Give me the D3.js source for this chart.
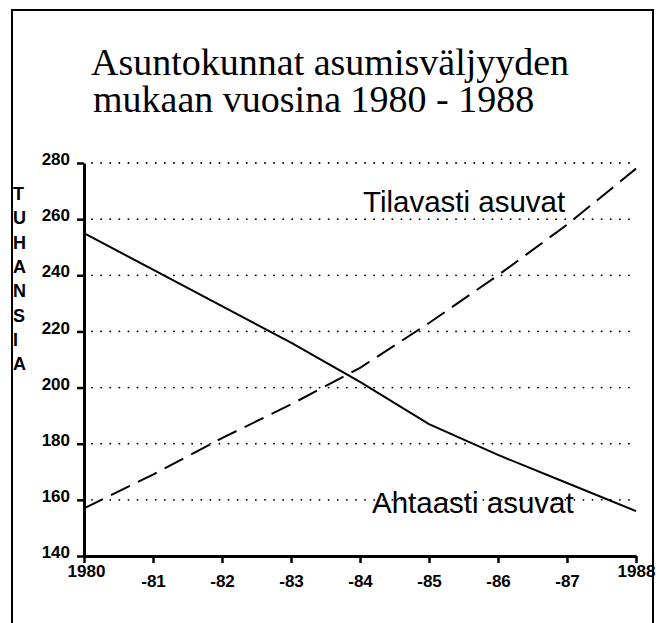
<!DOCTYPE html>
<html>
<head>
<meta charset="utf-8">
<script src="https://cdn.jsdelivr.net/npm/d3@7"></script>
<style>
  body { margin: 0; background: #fff; }
  svg { display: block; }
</style>
</head>
<body>
<svg id="chart" width="667" height="623"></svg>
<script>
// data (thousands of households)
const years = [1980, 1981, 1982, 1983, 1984, 1985, 1986, 1987, 1988];
const ahtaasti = [255, 242, 229, 216, 202, 187, 176, 166, 156];
const tilavasti = [157, 169, 182, 194, 207, 223, 240, 258, 278];
const yTicks = [140, 160, 180, 200, 220, 240, 260, 280];
const xTickLabels = ["1980", "-81", "-82", "-83", "-84", "-85", "-86", "-87", "1988"];
const yLabel = "TUHANSIA";

var svg = d3.select("#chart");

// outer frame
svg.append("rect")
    .attr("x", 12).attr("y", 10)
    .attr("width", 641).attr("height", 640)
    .attr("fill", "none")
    .attr("stroke", "#000")
    .attr("stroke-width", 2);

// title
const title = svg.append("text")
    .attr("font-family", "Liberation Serif, Times New Roman, serif")
    .attr("font-size", 38)
    .attr("fill", "#000");
title.append("tspan").attr("x", 91).attr("y", 75).text("Asuntokunnat asumisväljyyden");
title.append("tspan").attr("x", 93).attr("y", 112).text("mukaan vuosina 1980 - 1988");

var x = d3.scaleLinear().domain([1980, 1988]).range([84, 636]);
var y = d3.scaleLinear().domain([140, 280]).range([556, 163]);

// dotted grid
svg.append("g")
    .selectAll("line")
    .data(yTicks.filter(d => d > 140))
    .enter()
    .append("line")
    .attr("x1", 92).attr("x2", 634)
    .attr("y1", d => y(d)).attr("y2", d => y(d))
    .attr("stroke", "#000")
    .attr("stroke-width", 1.8)
    .attr("stroke-linecap", "round")
    .attr("stroke-dasharray", "0.1,9");

// y axis
const yAxis = svg.append("g")
    .attr("transform", "translate(84,0)")
    .call(d3.axisLeft(y).tickValues(yTicks).tickSize(7).tickSizeOuter(0));
yAxis.select(".domain").attr("stroke-width", 3);
yAxis.selectAll(".tick line").attr("stroke-width", 2.5);
yAxis.selectAll(".tick text")
    .attr("x", -14)
    .attr("dy", "0.1em")
    .attr("font-family", "Liberation Sans, Arial, sans-serif")
    .attr("font-weight", "bold")
    .attr("font-size", 17)
    .attr("fill", "#000");

// x axis
const xAxis = svg.append("g")
    .attr("transform", "translate(0,556)")
    .call(d3.axisBottom(x).tickValues(years).tickSize(7).tickSizeOuter(0)
        .tickFormat((d, i) => xTickLabels[i]));
xAxis.select(".domain").attr("stroke-width", 3);
xAxis.selectAll(".tick line").attr("stroke-width", 2.5);
xAxis.selectAll(".tick text")
    .attr("y", (d, i) => (i === 0 || i === years.length - 1) ? 9 : 19)
    .attr("dx", (d, i) => i === 0 ? 2 : 0)
    .attr("font-family", "Liberation Sans, Arial, sans-serif")
    .attr("font-weight", "bold")
    .attr("font-size", 17)
    .attr("fill", "#000");

// vertical axis label
svg.append("g")
    .selectAll("text")
    .data(yLabel.split(""))
    .enter()
    .append("text")
    .attr("x", 13)
    .attr("y", (d, i) => 200 + i * 24.3)
    .attr("font-family", "Liberation Sans, Arial, sans-serif")
    .attr("font-weight", "bold")
    .attr("font-size", 18)
    .text(d => d);

// lines
var line = d3.line()
    .x((d, i) => x(years[i]))
    .y(d => y(d));

svg.append("path")
    .datum(ahtaasti)
    .attr("d", line)
    .attr("fill", "none")
    .attr("stroke", "#000")
    .attr("stroke-width", 2);

svg.append("path")
    .datum(tilavasti)
    .attr("d", line)
    .attr("fill", "none")
    .attr("stroke", "#000")
    .attr("stroke-width", 2)
    .attr("stroke-dasharray", "21,9");

// series labels
svg.append("text")
    .attr("x", 363).attr("y", 212)
    .attr("font-family", "Liberation Sans, Arial, sans-serif")
    .attr("font-size", 29.5)
    .text("Tilavasti asuvat");

svg.append("text")
    .attr("x", 372).attr("y", 513)
    .attr("font-family", "Liberation Sans, Arial, sans-serif")
    .attr("font-size", 29.5)
    .text("Ahtaasti asuvat");
</script>
</body>
</html>
